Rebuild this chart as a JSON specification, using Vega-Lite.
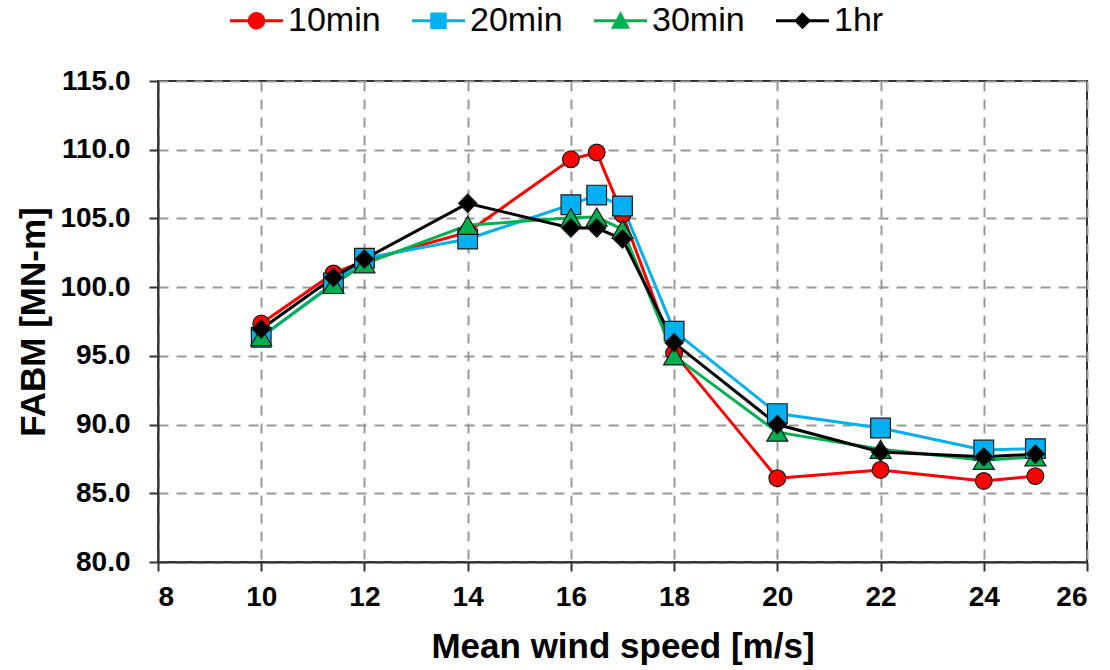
{
  "$schema": "https://vega.github.io/schema/vega-lite/v6.json",
  "width": 929,
  "height": 481,
  "autosize": {"type": "none"},
  "padding": {"left": 158, "top": 81, "right": 23, "bottom": 108},
  "background": "white",
  "config": {
    "font": "Liberation Sans",
    "view": {"stroke": "#333333", "strokeWidth": 2},
    "axis": {
      "domainColor": "#333333",
      "domainWidth": 2,
      "tickColor": "#333333",
      "tickWidth": 2,
      "tickSize": 9,
      "labelFont": "Liberation Sans",
      "labelFontSize": 28,
      "labelFontWeight": "bold",
      "labelColor": "#000000",
      "titleFont": "Liberation Sans",
      "titleFontSize": 35,
      "titleFontWeight": "bold",
      "titleColor": "#000000",
      "gridColor": "#999999",
      "gridDash": [10, 8],
      "gridWidth": 2
    }
  },
  "data": {
    "values": [
      {"series": "10min", "speed": 10, "fabm": 97.35},
      {"series": "10min", "speed": 11.4, "fabm": 101.0},
      {"series": "10min", "speed": 12, "fabm": 101.9},
      {"series": "10min", "speed": 14, "fabm": 104.0},
      {"series": "10min", "speed": 16, "fabm": 109.3},
      {"series": "10min", "speed": 16.5, "fabm": 109.8},
      {"series": "10min", "speed": 17, "fabm": 105.3},
      {"series": "10min", "speed": 18, "fabm": 95.2},
      {"series": "10min", "speed": 20, "fabm": 86.1},
      {"series": "10min", "speed": 22, "fabm": 86.7},
      {"series": "10min", "speed": 24, "fabm": 85.9},
      {"series": "10min", "speed": 25, "fabm": 86.25},
      {"series": "20min", "speed": 10, "fabm": 96.35},
      {"series": "20min", "speed": 11.4, "fabm": 100.3},
      {"series": "20min", "speed": 12, "fabm": 102.1},
      {"series": "20min", "speed": 14, "fabm": 103.5},
      {"series": "20min", "speed": 16, "fabm": 106.0},
      {"series": "20min", "speed": 16.5, "fabm": 106.7},
      {"series": "20min", "speed": 17, "fabm": 105.9},
      {"series": "20min", "speed": 18, "fabm": 96.8},
      {"series": "20min", "speed": 20, "fabm": 90.8},
      {"series": "20min", "speed": 22, "fabm": 89.75},
      {"series": "20min", "speed": 24, "fabm": 88.15},
      {"series": "20min", "speed": 25, "fabm": 88.25},
      {"series": "30min", "speed": 10, "fabm": 96.4},
      {"series": "30min", "speed": 11.4, "fabm": 100.2},
      {"series": "30min", "speed": 12, "fabm": 101.7},
      {"series": "30min", "speed": 14, "fabm": 104.5},
      {"series": "30min", "speed": 16, "fabm": 105.05},
      {"series": "30min", "speed": 16.5, "fabm": 105.1},
      {"series": "30min", "speed": 17, "fabm": 104.2},
      {"series": "30min", "speed": 18, "fabm": 95.0},
      {"series": "30min", "speed": 20, "fabm": 89.45},
      {"series": "30min", "speed": 22, "fabm": 88.2},
      {"series": "30min", "speed": 24, "fabm": 87.4},
      {"series": "30min", "speed": 25, "fabm": 87.65},
      {"series": "1hr", "speed": 10, "fabm": 96.95},
      {"series": "1hr", "speed": 11.4, "fabm": 100.7},
      {"series": "1hr", "speed": 12, "fabm": 102.05},
      {"series": "1hr", "speed": 14, "fabm": 106.1},
      {"series": "1hr", "speed": 16, "fabm": 104.3},
      {"series": "1hr", "speed": 16.5, "fabm": 104.3},
      {"series": "1hr", "speed": 17, "fabm": 103.5},
      {"series": "1hr", "speed": 18, "fabm": 95.95},
      {"series": "1hr", "speed": 20, "fabm": 90.0},
      {"series": "1hr", "speed": 22, "fabm": 88.0},
      {"series": "1hr", "speed": 24, "fabm": 87.65},
      {"series": "1hr", "speed": 25, "fabm": 87.85}
    ]
  },
  "encoding": {
    "x": {
      "field": "speed",
      "type": "quantitative",
      "scale": {"domain": [8, 26], "nice": false, "zero": false},
      "axis": {
        "values": [8, 10, 12, 14, 16, 18, 20, 22, 24, 26],
        "format": "d",
        "title": "Mean wind speed [m/s]",
        "labelPadding": 12,
        "titlePadding": 18,
        "grid": true
      }
    },
    "y": {
      "field": "fabm",
      "type": "quantitative",
      "scale": {"domain": [80, 115], "nice": false, "zero": false},
      "axis": {
        "values": [80, 85, 90, 95, 100, 105, 110, 115],
        "format": ".1f",
        "title": "FABM [MN-m]",
        "labelPadding": 19,
        "titlePadding": 8,
        "grid": true
      }
    }
  },
  "layer": [
    {
      "mark": {"type": "line", "strokeWidth": 3},
      "encoding": {
        "color": {
          "field": "series",
          "type": "nominal",
          "scale": {
            "domain": ["10min", "20min", "30min", "1hr"],
            "range": ["#FF0000", "#00B0F0", "#00B050", "#000000"]
          },
          "legend": {
            "orient": "none",
            "legendX": 72,
            "legendY": -87,
            "direction": "horizontal",
            "columns": 4,
            "title": null,
            "padding": 0,
            "symbolType": "stroke",
            "symbolSize": 2809,
            "symbolStrokeWidth": 3,
            "symbolOpacity": 1,
            "labelFont": "Liberation Sans",
            "labelFontSize": 34,
            "labelColor": "#000000",
            "labelOffset": 5,
            "columnPadding": 31,
            "encoding": {
              "symbols": {
                "shape": {"value": {"expr": "datum.value === '10min' ? 'M-1,-0.06L1,-0.06L1,0.06L-1,0.06ZM0.33,0A0.33,0.33,0,1,1,-0.33,0A0.33,0.33,0,1,1,0.33,0Z' : datum.value === '20min' ? 'M-1,-0.06L1,-0.06L1,0.06L-1,0.06ZM-0.31,-0.31L0.31,-0.31L0.31,0.31L-0.31,0.31Z' : datum.value === '30min' ? 'M-1,-0.06L1,-0.06L1,0.06L-1,0.06ZM0,-0.36L0.36,0.3L-0.36,0.3Z' : 'M-1,-0.06L1,-0.06L1,0.06L-1,0.06ZM0,-0.32L0.32,0L0,0.32L-0.32,0Z'"}},
                "fill": {"value": {"expr": "datum.value === '10min' ? '#FF0000' : datum.value === '20min' ? '#00B0F0' : datum.value === '30min' ? '#00B050' : '#000000'"}},
                "strokeWidth": {"value": 0},
                "opacity": {"value": 1}
              }
            }
          }
        }
      }
    },
    {
      "mark": {"type": "point", "filled": true, "opacity": 1, "stroke": "#1a1a1a", "strokeWidth": 1.2},
      "encoding": {
        "fill": {
          "field": "series",
          "type": "nominal",
          "scale": {"range": ["#FF0000", "#000000", "#00B0F0", "#00B050"]},
          "legend": null
        },
        "shape": {
          "field": "series",
          "type": "nominal",
          "scale": {"range": ["circle", "diamond", "square", "triangle-up"]},
          "legend": null
        },
        "size": {
          "field": "series",
          "type": "ordinal",
          "scale": {"range": [280, 441, 313, 160]},
          "legend": null
        }
      }
    }
  ]
}
